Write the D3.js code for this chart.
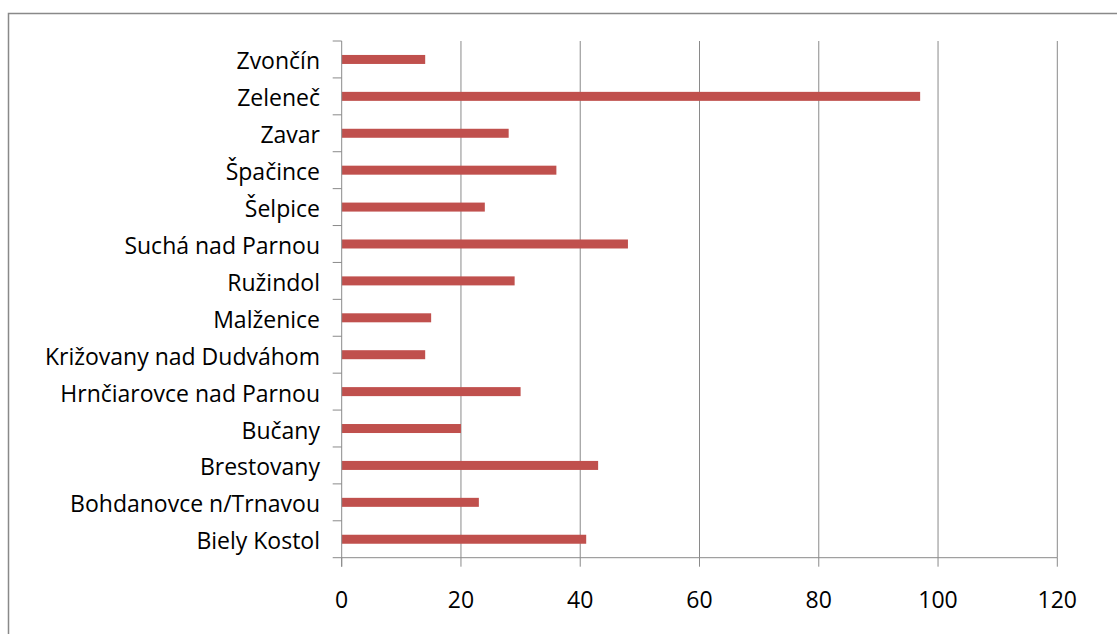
<!DOCTYPE html>
<html>
<head>
<meta charset="utf-8">
<script src="https://cdn.jsdelivr.net/npm/d3@7"></script>
<style>
  body { margin: 0; background: #fff; }
  svg { display: block; }
  text { font-family: "Open Sans", "Noto Sans", sans-serif; fill: #000; }
</style>
</head>
<body>
<script>
// villages, top to bottom as shown on the chart
var villages = ["Zvončín", "Zeleneč", "Zavar", "Špačince", "Šelpice", "Suchá nad Parnou",
  "Ružindol", "Malženice", "Križovany nad Dudváhom", "Hrnčiarovce nad Parnou",
  "Bučany", "Brestovany", "Bohdanovce n/Trnavou", "Biely Kostol"];
var values = [14, 97, 28, 36, 24, 48, 29, 15, 14, 30, 20, 43, 23, 41];
var xTicks = [0, 20, 40, 60, 80, 100, 120];

var W = 1117, H = 634;
// plot area edges (note: "top" is taken by window.top)
var pLeft = 341.7, pRight = 1057.3, pTop = 41, pBottom = 557.7;

var svg = d3.select("body").append("svg").attr("width", W).attr("height", H);

// outer chart border (right and bottom run off the picture)
svg.append("path")
  .attr("d", "M8.5," + H + "V13.5H" + W)
  .attr("fill", "none")
  .attr("stroke", "#898989")
  .attr("stroke-width", 1.5);

var x = d3.scaleLinear().domain([0, 120]).range([pLeft, pRight]);
var y = d3.scaleBand().domain(villages).range([pTop, pBottom]).padding(0);

// vertical gridlines
svg.selectAll("line.grid")
  .data(xTicks.slice(1))
  .enter().append("line")
  .attr("class", "grid")
  .attr("x1", function(d){ return x(d); })
  .attr("x2", function(d){ return x(d); })
  .attr("y1", pTop)
  .attr("y2", pBottom)
  .attr("stroke", "#8a8a8a")
  .attr("stroke-width", 1);

// bars
var barH = 9;
svg.selectAll("rect.bar")
  .data(values)
  .enter().append("rect")
  .attr("class", "bar")
  .attr("x", x(0))
  .attr("y", function(d, i){ return y(villages[i]) + y.bandwidth() / 2 - barH / 2; })
  .attr("width", function(d){ return x(d) - x(0); })
  .attr("height", barH)
  .attr("fill", "#c0504d");

// x axis line + ticks
svg.append("line")
  .attr("x1", pLeft).attr("x2", pRight)
  .attr("y1", pBottom).attr("y2", pBottom)
  .attr("stroke", "#8a8a8a").attr("stroke-width", 1);
svg.selectAll("line.xtick")
  .data(xTicks)
  .enter().append("line")
  .attr("class", "xtick")
  .attr("x1", function(d){ return x(d); })
  .attr("x2", function(d){ return x(d); })
  .attr("y1", pBottom)
  .attr("y2", pBottom + 9)
  .attr("stroke", "#8a8a8a");
svg.selectAll("text.xlab")
  .data(xTicks)
  .enter().append("text")
  .attr("class", "xlab")
  .attr("x", function(d){ return x(d); })
  .attr("y", 607.5)
  .attr("text-anchor", "middle")
  .attr("font-size", 23)
  .text(function(d){ return d; });

// y axis line + ticks at band edges
svg.append("line")
  .attr("x1", pLeft).attr("x2", pLeft)
  .attr("y1", pTop).attr("y2", pBottom + 9)
  .attr("stroke", "#8a8a8a").attr("stroke-width", 1);
svg.selectAll("line.ytick")
  .data(villages.concat(["end"]))
  .enter().append("line")
  .attr("class", "ytick")
  .attr("x1", pLeft - 9)
  .attr("x2", pLeft)
  .attr("y1", function(d, i){ return pTop + i * y.step(); })
  .attr("y2", function(d, i){ return pTop + i * y.step(); })
  .attr("stroke", "#8a8a8a");
svg.selectAll("text.ylab")
  .data(villages)
  .enter().append("text")
  .attr("class", "ylab")
  .attr("x", 320)
  .attr("y", function(d){ return y(d) + y.bandwidth() / 2 + 10; })
  .attr("text-anchor", "end")
  .attr("font-size", 23)
  .text(function(d){ return d; });
</script>
</body>
</html>
